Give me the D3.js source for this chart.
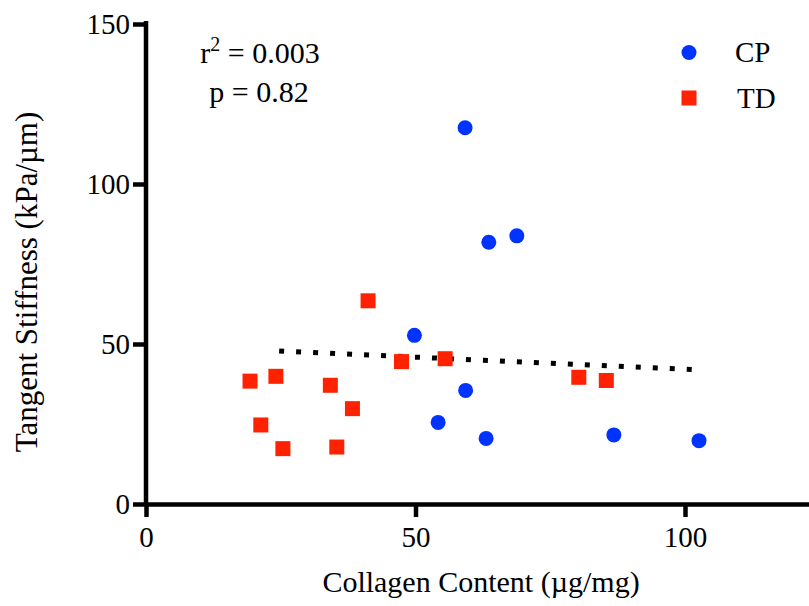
<!DOCTYPE html>
<html>
<head>
<meta charset="utf-8">
<script src="https://cdn.jsdelivr.net/npm/d3@7"></script>
<style>
  html, body { margin: 0; padding: 0; background: #fff; }
  svg text, svg tspan { font-family: "Liberation Serif", "Times New Roman", serif; fill: #000; }
</style>
</head>
<body>
<svg id="chart" width="809" height="606"></svg>
<script>
// ---- data ----
const cpX = [59.2, 63.6, 68.8, 49.8, 59.3, 54.2, 63.1, 86.8, 102.6];
const cpY = [117.6, 81.8, 83.8, 52.7, 35.5, 25.5, 20.5, 21.6, 19.8];
const tdX = [41.2, 47.4, 55.5, 19.3, 24.1, 34.2, 38.3, 21.3, 25.4, 35.4, 80.3, 85.4];
const tdY = [63.5, 44.5, 45.4, 38.4, 39.9, 37.1, 29.8, 24.7, 17.3, 17.8, 39.6, 38.6];
const fitX = [24.7, 101.5];
const fitY = [47.8, 42.0];
const xTicks = [0, 50, 100];
const yTicks = [0, 50, 100, 150];
const seriesNames = ["CP", "TD"];
const seriesColors = ["#0033ff", "#ff2200"];
const statsLines = ["r2", "p = 0.82"];

const FONT = "'Liberation Serif', 'Times New Roman', serif";
const svg = d3.select("#chart");
const x = d3.scaleLinear().domain([0, 125]).range([146, 146 + 125 * 5.39]);
const y = d3.scaleLinear().domain([0, 150]).range([504, 24]);

// axes
const xAxis = svg.append("g").attr("transform", `translate(0,${y(0)})`)
  .call(d3.axisBottom(x).tickValues(xTicks).tickSize(13).tickSizeOuter(0).tickPadding(8));
const yAxis = svg.append("g").attr("transform", `translate(${x(0)},0)`)
  .call(d3.axisLeft(y).tickValues(yTicks).tickSize(13).tickSizeOuter(0).tickPadding(3));

[xAxis, yAxis].forEach(g => {
  g.attr("font-family", FONT);
  g.select(".domain").attr("stroke", "#000").attr("stroke-width", 4.5);
  g.selectAll(".tick line").attr("stroke", "#000").attr("stroke-width", 4.5);
  g.selectAll(".tick text").style("font-size", "29px").style("font-family", FONT);
});
yAxis.select(".domain").attr("d", `M0,${y(150) - 3}V${y(0) + 2}`);
xAxis.selectAll(".tick text").attr("dy", "0.75em");
yAxis.selectAll(".tick text").attr("dy", "0.34em");

// fit line
svg.append("path")
  .datum(fitX.map((v, i) => [v, fitY[i]]))
  .attr("d", d3.line().x(d => x(d[0])).y(d => y(d[1])))
  .attr("fill", "none").attr("stroke", "#000")
  .attr("stroke-width", 5).attr("stroke-dasharray", "5,12");

// CP points
svg.append("g").selectAll("circle")
  .data(cpX.map((v, i) => [v, cpY[i]]))
  .join("circle")
  .attr("cx", d => x(d[0])).attr("cy", d => y(d[1])).attr("r", 7.5)
  .attr("fill", seriesColors[0]);

// TD points
const sq = 15;
svg.append("g").selectAll("rect")
  .data(tdX.map((v, i) => [v, tdY[i]]))
  .join("rect")
  .attr("x", d => x(d[0]) - sq / 2).attr("y", d => y(d[1]) - sq / 2)
  .attr("width", sq).attr("height", sq)
  .attr("fill", seriesColors[1]);

// legend
const leg = svg.append("g");
leg.append("circle").attr("cx", 689).attr("cy", 52.5).attr("r", 7.5).attr("fill", seriesColors[0]);
leg.append("rect").attr("x", 689 - sq / 2).attr("y", 98 - sq / 2).attr("width", sq).attr("height", sq).attr("fill", seriesColors[1]);
leg.append("text").attr("x", 735).attr("y", 62).style("font-family", FONT).style("font-size", "29px").text(seriesNames[0]);
leg.append("text").attr("x", 737).attr("y", 108).style("font-family", FONT).style("font-size", "29px").text(seriesNames[1]);

// stats
const st = svg.append("text").attr("x", 260).attr("y", 63).attr("text-anchor", "middle")
  .style("font-family", FONT).style("font-size", "30px");
st.append("tspan").text("r");
st.append("tspan").attr("dy", -12).style("font-size", "20px").text("2");
st.append("tspan").attr("dy", 12).text(" = 0.003");
svg.append("text").attr("x", 259).attr("y", 102).attr("text-anchor", "middle")
  .style("font-family", FONT).style("font-size", "30px").text(statsLines[1]);

// axis titles
svg.append("text").attr("x", 481).attr("y", 592).attr("text-anchor", "middle")
  .style("font-family", FONT).style("font-size", "30px").text("Collagen Content (µg/mg)");
svg.append("text").attr("transform", "translate(37,282) rotate(-90)").attr("text-anchor", "middle")
  .style("font-family", FONT).style("font-size", "31px").text("Tangent Stiffness (kPa/µm)");
</script>
</body>
</html>
